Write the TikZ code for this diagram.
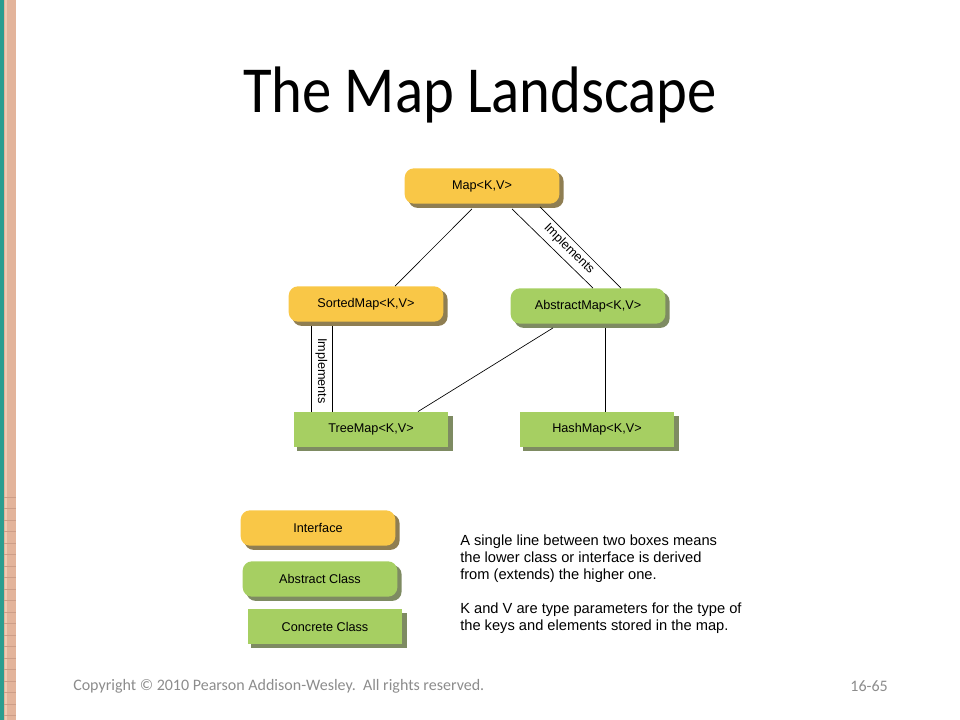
\documentclass[tikz,border=0pt]{standalone}
\usepackage{fontspec}
\usepackage{graphicx}
\usepackage{tikz}
\usetikzlibrary{calc,backgrounds}
\newfontfamily\slidefont{Carlito}
\newfontfamily\umlfont{Liberation Sans}

\definecolor{ifaceYellow}{RGB}{249,199,71}
\definecolor{ifaceShadow}{RGB}{143,126,82}
\definecolor{classGreen}{RGB}{166,207,98}
\definecolor{classShadow}{RGB}{126,139,98}
\definecolor{stripeTeal}{RGB}{43,157,143}
\definecolor{stripePeach}{RGB}{227,180,155}
\definecolor{stripeLight}{RGB}{238,204,180}
\definecolor{stripeRule}{RGB}{205,158,136}
\definecolor{footGray}{RGB}{140,140,140}

\tikzset{
  umlbox/.style={inner sep=0pt, minimum width=116pt, minimum height=26.5pt, font=\umlfont\fontsize{9.5}{11}\selectfont},
  ifacebox/.style={umlbox, fill=ifaceYellow, rounded corners=7pt},
  absbox/.style={umlbox, fill=classGreen, rounded corners=7pt},
  concbox/.style={umlbox, fill=classGreen},
  umlline/.style={line width=0.5pt},
  implabel/.style={font=\umlfont\fontsize{9.5}{11}\selectfont, inner sep=0pt},
}

\begin{document}
\begin{tikzpicture}[x=0.75pt,y=0.75pt,yscale=-1]
\useasboundingbox (0,0) rectangle (960,720);

%Shape: left stripe
\fill[stripeTeal] (0,0) rectangle (3.5,720);
\fill[stripePeach] (3.5,0) rectangle (16,720);
\draw[stripeLight, line width=0.8pt] (6,0) -- (6,720);
\foreach \y in {497,508.5,...,720}
  \draw[stripeRule, line width=0.6pt] (3.5,\y) -- (16,\y);

%Text: title
\node[font=\slidefont\fontsize{44}{52}\selectfont, anchor=base, inner sep=0pt] (title) at (480,113) {\scalebox{1}[1.12]{The Map Landscape}};

%Shape: Rounded Rect [Map]
\node[ifacebox] (map) at (482,186) {Map<K,V>};
%Shape: Rounded Rect [SortedMap]
\node[ifacebox] (sorted) at (366,304) {SortedMap<K,V>};
%Shape: Rounded Rect [AbstractMap]
\node[absbox] (abs) at (588,306) {AbstractMap<K,V>};
%Shape: Rect [TreeMap]
\node[concbox] (tree) at (371,429.5) {TreeMap<K,V>};
%Shape: Rect [HashMap]
\node[concbox] (hash) at (597,429.5) {HashMap<K,V>};

%Shape: legend boxes
\node[ifacebox] (legiface) at (318,528) {Interface};
\node[absbox] (legabs) at (320,579) {Abstract Class};
\node[concbox] (legconc) at (325,626.5) {Concrete Class};

%Shape: box shadows
\begin{scope}[on background layer]
\fill[ifaceShadow, rounded corners=7pt] ($(map.south west)+(4,4)$) rectangle ($(map.north east)+(4,4)$);
\fill[ifaceShadow, rounded corners=7pt] ($(sorted.south west)+(4,4)$) rectangle ($(sorted.north east)+(4,4)$);
\fill[classShadow, rounded corners=7pt] ($(abs.south west)+(4,4)$) rectangle ($(abs.north east)+(4,4)$);
\fill[classShadow] ($(tree.south west)+(4,4)$) rectangle ($(tree.north east)+(4,4)$);
\fill[classShadow] ($(hash.south west)+(4,4)$) rectangle ($(hash.north east)+(4,4)$);
\fill[ifaceShadow, rounded corners=7pt] ($(legiface.south west)+(4,4)$) rectangle ($(legiface.north east)+(4,4)$);
\fill[classShadow, rounded corners=7pt] ($(legabs.south west)+(4,4)$) rectangle ($(legabs.north east)+(4,4)$);
\fill[classShadow] ($(legconc.south west)+(4,4)$) rectangle ($(legconc.north east)+(4,4)$);
\end{scope}

%Line: Map -- SortedMap
\draw[umlline] ($(map.south)+(-10,5)$) -- ($(sorted.north)+(29,0)$);
%Line: Map -- AbstractMap (implements)
\draw[umlline] ($(map.south)+(30,5)$) -- ($(abs.north)+(5,0)$);
\draw[umlline] ($(map.south)+(58,3)$) -- ($(abs.north)+(33,0)$);
\node[implabel] (impl1) at (569,249) {\rotatebox{-45}{Implements}};
%Line: SortedMap -- TreeMap (implements)
\draw[umlline] ($(sorted.south)+(-55,4)$) -- ($(tree.north)+(-60,0)$);
\draw[umlline] ($(sorted.south)+(-34,4)$) -- ($(tree.north)+(-39,0)$);
\node[implabel] (impl2) at (321.5,371) {\rotatebox{-90}{Implements}};
%Line: AbstractMap -- TreeMap
\draw[umlline] ($(abs.south)+(-35,4)$) -- ($(tree.north)+(47,0)$);
%Line: AbstractMap -- HashMap
\draw[umlline] ($(abs.south)+(17,4)$) -- ($(hash.north)+(8,0)$);

%Text: legend note
\node[font=\umlfont\fontsize{11}{12.75}\selectfont, align=left, anchor=west, inner sep=0pt] (note) at (460,584.5) {A single line between two boxes means\\
the lower class or interface is derived\\
from (extends) the higher one.\\[12.75pt]
K and V are type parameters for the type of\\
the keys and elements stored in the map.};

%Text: footer
\node[font=\slidefont\fontsize{12}{14}\selectfont, text=footGray, anchor=base west, inner sep=0pt] (copyright) at (73,690) {Copyright \textcopyright{} 2010 Pearson Addison-Wesley.\ \ All rights reserved.};
\node[font=\slidefont\fontsize{12}{14}\selectfont, text=footGray, anchor=base east, inner sep=0pt] (pagenum) at (888,691) {16-65};

\end{tikzpicture}
\end{document}
